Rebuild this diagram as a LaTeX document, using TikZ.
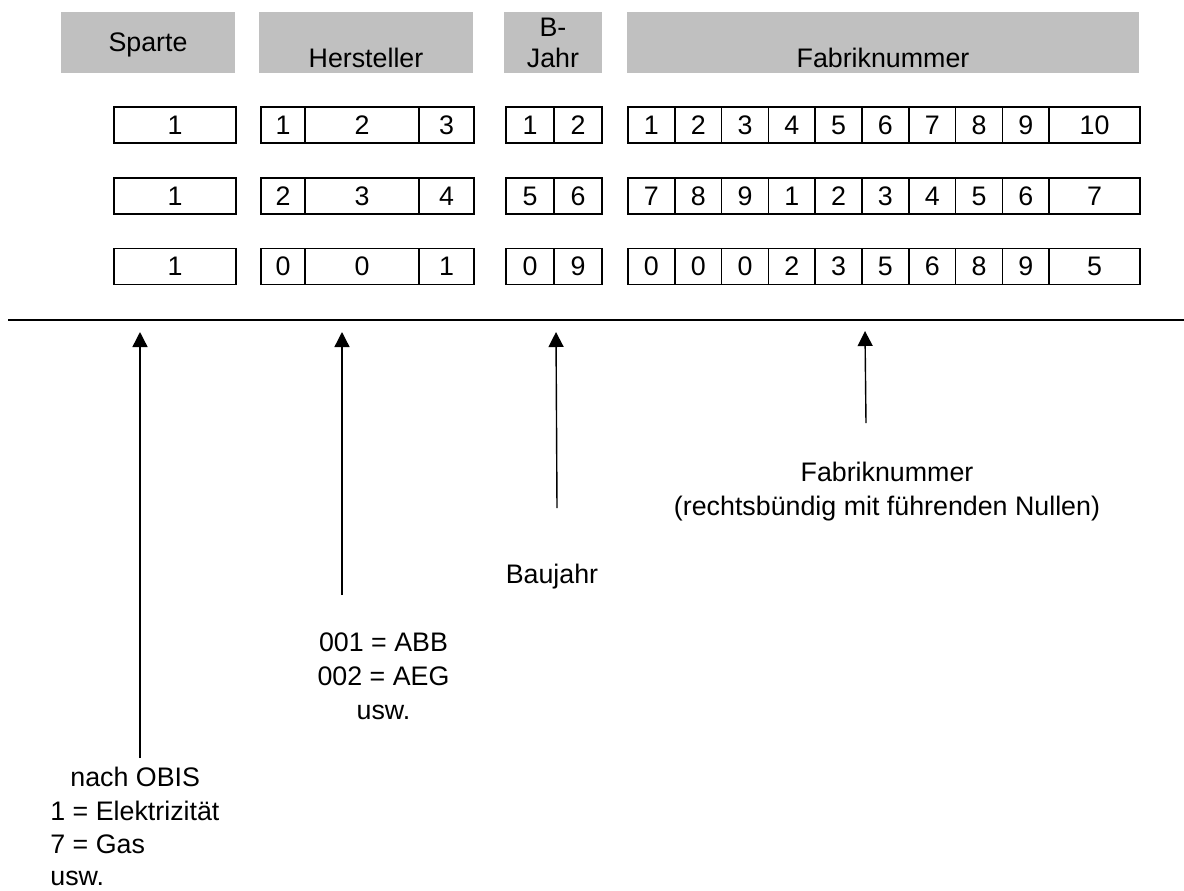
\documentclass[tikz,border=0pt]{standalone}
\usepackage{fontspec}
\setmainfont{Liberation Sans}
\usetikzlibrary{arrows.meta}

\definecolor{headgray}{RGB}{192,192,192}

% one cell of a number row: name, left x, right x, centre y, text
\newcommand\numcell[5]{%
  \pgfmathsetmacro\cellw{(#3-#2)*0.5}%
  \node[cellbox, minimum width=\cellw pt] (#1) at ({(#2+#3)/2},#4) {#5};}

\begin{document}
\begin{tikzpicture}[x=0.5pt, y=-0.5pt,
  every node/.style={font=\fontsize{13.4}{15.5}\selectfont},
  headbox/.style={fill=headgray, draw=none, inner sep=0pt, minimum height=30.5pt, align=center},
  cellbox/.style={draw=black, line width=0.85pt, inner sep=0pt, minimum height=18pt},
  rule/.style={line width=1pt},
  pointer/.style={line width=0.7pt, -{Triangle[width=7.5pt,length=7.5pt]}},
  note/.style={inner sep=0pt, anchor=base}]

\useasboundingbox (0,0) rectangle (1184,890);

% column headings
\node[headbox, minimum width=87pt, text depth=0pt] (hSparte) at (148,42.5) {Sparte};
\node[headbox, minimum width=107pt] (hHerst)  at (366,42.5) {\vphantom{B}\\Hersteller};
\node[headbox, minimum width=49pt]  (hJahr)   at (553,42.5) {B-\\Jahr};
\node[headbox, minimum width=256pt] (hFabrik) at (883,42.5) {\vphantom{B}\\Fabriknummer};

% three example rows
\foreach \r/\y/\qa/\qb/\qc/\qd/\qe/\qf/\qg/\qh/\qi/\qj/\qk/\ql/\qm/\qn/\qo/\qp in {
  1/125/1/1/2/3/1/2/1/2/3/4/5/6/7/8/9/10,
  2/196/1/2/3/4/5/6/7/8/9/1/2/3/4/5/6/7,
  3/266.5/1/0/0/1/0/9/0/0/0/2/3/5/6/8/9/5}{
  \numcell{s\r}{114}{236}{\y}{\qa}
  \numcell{h\r a}{261}{305}{\y}{\qb}
  \numcell{h\r b}{305}{419}{\y}{\qc}
  \numcell{h\r c}{419}{474}{\y}{\qd}
  \numcell{j\r a}{506}{554}{\y}{\qe}
  \numcell{j\r b}{554}{602}{\y}{\qf}
  \numcell{f\r a}{628}{674.8}{\y}{\qg}
  \numcell{f\r b}{674.8}{721.6}{\y}{\qh}
  \numcell{f\r c}{721.6}{768.4}{\y}{\qi}
  \numcell{f\r d}{768.4}{815.2}{\y}{\qj}
  \numcell{f\r e}{815.2}{862}{\y}{\qk}
  \numcell{f\r f}{862}{908.8}{\y}{\ql}
  \numcell{f\r g}{908.8}{955.6}{\y}{\qm}
  \numcell{f\r h}{955.6}{1002.4}{\y}{\qn}
  \numcell{f\r i}{1002.4}{1049.2}{\y}{\qo}
  \numcell{f\r j}{1049.2}{1140}{\y}{\qp}
}

% separating rule
\coordinate (ruleL) at (8,320);
\coordinate (ruleR) at (1184,320);
\draw[rule] (ruleL) -- (ruleR);

% explanations, one node per line, placed on their baselines
\node[note] (tFabrik1) at (887,481) {Fabriknummer};
\node[note] (tFabrik2) at (887,515) {(rechtsbündig mit führenden Nullen)};
\node[note] (tJahr)    at (552,583) {Baujahr};
\node[note] (tHerst1)  at (383.5,651) {001 = ABB};
\node[note] (tHerst2)  at (383.5,685) {002 = AEG};
\node[note] (tHerst3)  at (383.5,719) {usw.};
\node[note, anchor=base west] (tSparte1) at (70,786) {nach OBIS};
\node[note, anchor=base west] (tSparte2) at (50,820) {1 = Elektrizität};
\node[note, anchor=base west] (tSparte3) at (50,853) {7 = Gas};
\node[note, anchor=base west] (tSparte4) at (50,885) {usw.};

% pointers from the explanations up to the fields
\coordinate (pSparteB) at (140,758);  \coordinate (pSparteT) at (140,332);
\coordinate (pHerstB)  at (342,595);  \coordinate (pHerstT)  at (342,332);
\coordinate (pJahrB)   at (557,508);  \coordinate (pJahrT)   at (556,332);
\coordinate (pFabrikB) at (866,423);  \coordinate (pFabrikT) at (865,331);
\draw[pointer] (pSparteB) -- (pSparteT);
\draw[pointer] (pHerstB)  -- (pHerstT);
\draw[pointer] (pJahrB)   -- (pJahrT);
\draw[pointer] (pFabrikB) -- (pFabrikT);

\end{tikzpicture}
\end{document}
